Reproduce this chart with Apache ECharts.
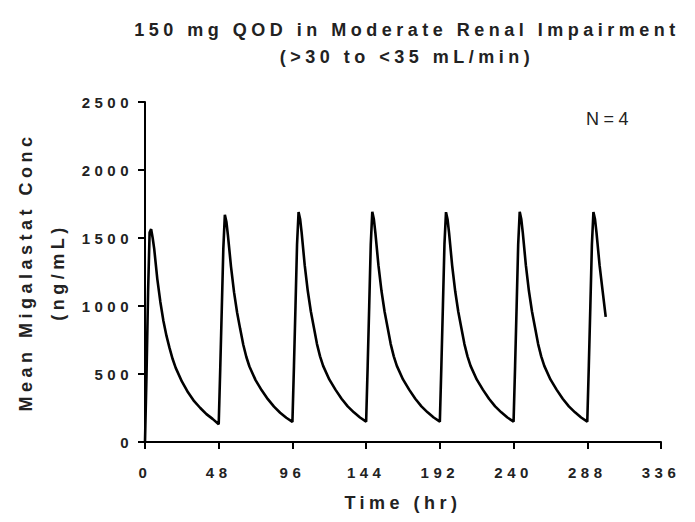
<!DOCTYPE html>
<html>
<head>
<meta charset="utf-8">
<script src="https://cdn.jsdelivr.net/npm/echarts@6/dist/echarts.min.js"></script>
<style>
  html, body { margin: 0; padding: 0; background: #fff; }
  #chart { width: 695px; height: 522px; }
  #chart text { letter-spacing: 4.5px; }
</style>
</head>
<body>
<div id="chart"></div>
<script>
// ---- Data ----
const titleLines = ['150 mg QOD in Moderate Renal Impairment', '(>30 to <35 mL/min)'];
const xTicks = [0, 48, 96, 144, 192, 240, 288, 336];
const yTicks = [0, 500, 1000, 1500, 2000, 2500];
const xName = 'Time (hr)';
const yName = 'Mean Migalastat Conc\n(ng/mL)';
const annotation = 'N=4';

const timeHr = [
  0, 1, 2, 3, 4, 5, 6, 8, 10, 12, 14, 16, 18, 20, 24, 28, 32, 36, 40, 44,
  48, 49, 50, 51, 52, 53, 54, 56, 58, 60, 62, 64, 66, 68, 72, 76, 80, 84, 88, 92,
  96, 97, 98, 99, 100, 101, 102, 104, 106, 108, 110, 112, 114, 116, 120, 124, 128, 132, 136, 140,
  144, 145, 146, 147, 148, 149, 150, 152, 154, 156, 158, 160, 162, 164, 168, 172, 176, 180, 184, 188,
  192, 193, 194, 195, 196, 197, 198, 200, 202, 204, 206, 208, 210, 212, 216, 220, 224, 228, 232, 236,
  240, 241, 242, 243, 244, 245, 246, 248, 250, 252, 254, 256, 258, 260, 264, 268, 272, 276, 280, 284,
  288, 289, 290, 291, 292, 293, 294, 296, 298, 300
];
const meanConc = [
  0, 500, 1100, 1540, 1565, 1500, 1420, 1200, 1030, 890, 780, 690, 610, 545, 445, 365, 300, 250, 205, 170,
  130, 540, 980, 1420, 1670, 1620, 1520, 1290, 1100, 950, 830, 715, 625, 555, 455, 380, 315, 260, 215, 178,
  148, 560, 1000, 1450, 1690, 1640, 1540, 1300, 1110, 960, 840, 720, 630, 560, 460, 385, 318, 262, 218, 180,
  150, 560, 1000, 1450, 1692, 1640, 1540, 1300, 1110, 960, 840, 720, 630, 560, 460, 385, 318, 262, 218, 180,
  150, 565, 1005, 1455, 1690, 1638, 1538, 1298, 1108, 958, 838, 720, 630, 560, 460, 385, 318, 262, 218, 180,
  150, 560, 1000, 1450, 1692, 1640, 1540, 1300, 1110, 960, 840, 720, 630, 560, 460, 385, 318, 262, 218, 180,
  150, 560, 1000, 1450, 1690, 1640, 1540, 1300, 1110, 920
];

// ---- Chart ----
const FONT = "'Liberation Sans', Arial, sans-serif";
const TXT = '#222222';
const chart = echarts.init(document.getElementById('chart'), null, { renderer: 'svg' });

const seriesData = timeHr.map((t, i) => [t, meanConc[i]]);

chart.setOption({
  animation: false,
  backgroundColor: '#ffffff',
  grid: { left: 145, right: 34, top: 102, bottom: 80, containLabel: false },
  xAxis: {
    type: 'value',
    min: xTicks[0],
    max: xTicks[xTicks.length - 1],
    interval: xTicks[1] - xTicks[0],
    name: xName,
    nameLocation: 'middle',
    nameGap: 52,
    nameTextStyle: { fontFamily: FONT, fontWeight: 'bold', fontSize: 18, color: TXT },
    axisLine: { onZero: false, lineStyle: { color: '#000', width: 2 } },
    axisTick: { show: true, length: 7, lineStyle: { color: '#000', width: 2 } },
    axisLabel: { margin: 23, fontFamily: FONT, fontWeight: 'bold', fontSize: 15, color: TXT, showMinLabel: true, showMaxLabel: true,
      formatter: v => String(v) },
    splitLine: { show: false }
  },
  yAxis: {
    type: 'value',
    min: yTicks[0],
    max: yTicks[yTicks.length - 1],
    interval: yTicks[1] - yTicks[0],
    name: yName,
    nameLocation: 'middle',
    nameGap: 71,
    nameTextStyle: { fontFamily: FONT, fontWeight: 'bold', fontSize: 18, color: TXT, lineHeight: 32 },
    axisLine: { show: true, onZero: false, lineStyle: { color: '#000', width: 2 } },
    axisTick: { show: true, length: 7, lineStyle: { color: '#000', width: 2 } },
    axisLabel: { margin: 12, fontFamily: FONT, fontWeight: 'bold', fontSize: 15, color: TXT,
      formatter: v => String(v) },
    splitLine: { show: false }
  },
  graphic: [
    { type: 'text', x: 407, y: 30, style: { text: titleLines[0], fill: TXT, font: 'bold 18px ' + FONT, textAlign: 'center', textVerticalAlign: 'middle' } },
    { type: 'text', x: 407, y: 57, style: { text: titleLines[1], fill: TXT, font: 'bold 18px ' + FONT, textAlign: 'center', textVerticalAlign: 'middle' } },
    { type: 'text', x: 586, y: 119, style: { text: annotation, fill: TXT, font: '18px ' + FONT, textAlign: 'left', textVerticalAlign: 'middle' } }
  ],
  series: [{
    type: 'line',
    data: seriesData,
    showSymbol: false,
    smooth: false,
    lineStyle: { color: '#000', width: 2.6 },
    clip: false
  }]
});
</script>
</body>
</html>
